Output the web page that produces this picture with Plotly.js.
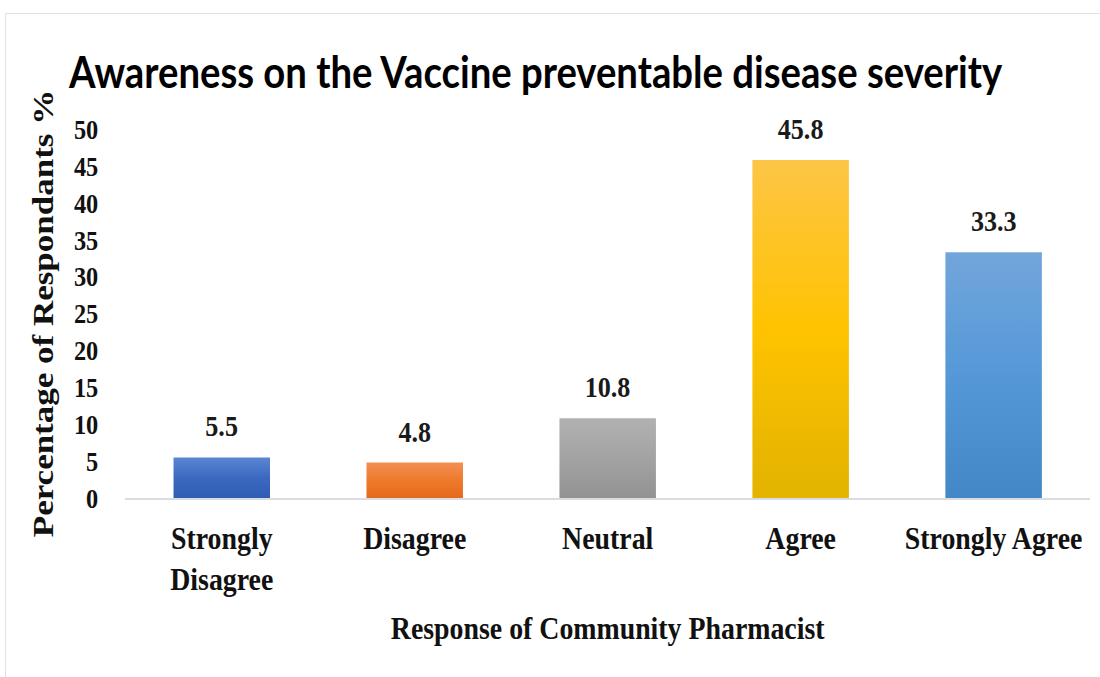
<!DOCTYPE html>
<html>
<head>
<meta charset="utf-8">
<script src="https://cdn.plot.ly/plotly-3.0.1.min.js"></script>
<style>
  html, body { margin: 0; padding: 0; background: #fff; overflow: hidden; }
  #wrap { position: absolute; left: 0; top: 0; width: 1264px; height: 677px; transform: scaleX(0.87); transform-origin: 0 0; }
  #chart { width: 1264px; height: 677px; }
  #frame { position: absolute; left: 5px; top: 13px; width: 1200px; height: 700px; border-left: 1.5px solid #dfe3e8; border-top: 1.5px solid #dfe3e8; pointer-events: none; }
</style>
</head>
<body>
<div id="wrap"><div id="chart"></div></div>
<div id="frame"></div>
<script>
// Data
const categories = ["Strongly<br>Disagree", "Disagree", "Neutral", "Agree", "Strongly Agree"];
const values = [5.5, 4.8, 10.8, 45.8, 33.3];
const valueLabels = ["5.5", "4.8", "10.8", "45.8", "33.3"];
const yTicks = [0, 5, 10, 15, 20, 25, 30, 35, 40, 45, 50];

// Styles (gradient top / mid / bottom per bar)
const baseColors = ["#4472c4", "#ed7d31", "#a5a5a5", "#ffc000", "#5b9bd5"];
const gradStops = [
  ["#5a86d2", "#3b69c0", "#2f5db4"],
  ["#f28f55", "#ee7a2c", "#e5691b"],
  ["#b1b1b1", "#a3a3a3", "#929292"],
  ["#fdc547", "#ffc300", "#e2b300"],
  ["#72a6da", "#5598d8", "#4487c6"]
];

const serif = "Liberation Serif, Times New Roman, serif";

const trace = {
  type: "bar",
  x: categories,
  y: values,
  marker: { color: baseColors, line: { width: 0 } },
  hoverinfo: "x+y",
  showlegend: false
};

const annotations = categories.map((c, i) => ({
  x: c, y: values[i], xref: "x", yref: "y",
  text: valueLabels[i], showarrow: false,
  yanchor: "bottom", yshift: 13,
  font: { family: serif, size: 30, color: "#1a1a1a", weight: 700 }
}));

const layout = {
  width: 1264, height: 677,
  margin: { l: 144, r: 11, t: 129, b: 179 },
  paper_bgcolor: "rgba(0,0,0,0)",
  plot_bgcolor: "rgba(0,0,0,0)",
  bargap: 0.5,
  title: {
    text: "<b>Awareness on the Vaccine preventable disease severity</b>",
    font: { family: "Lato, Open Sans, sans-serif", size: 44, color: "#000" },
    xref: "container", x: 0.487, xanchor: "center",
    yref: "container", y: 0.893, yanchor: "middle"
  },
  xaxis: {
    type: "category",
    showline: true, linecolor: "#d9dde2", linewidth: 1.5,
    showgrid: false, zeroline: false, ticks: "",
    ticklabelstandoff: 11,
    tickfont: { family: serif, size: 32, color: "#111", weight: 700 },
    title: {
      text: "<b>Response of Community Pharmacist</b>",
      font: { family: serif, size: 32, color: "#111" },
      standoff: 20
    }
  },
  yaxis: {
    range: [0, 50], tickvals: yTicks, ticktext: yTicks.map(String),
    showline: false, showgrid: false, zeroline: false, ticks: "",
    ticklabelstandoff: 30,
    tickfont: { family: serif, size: 28, color: "#111", weight: 700 },
    title: {
      text: "<b>Percentage of Respondants %</b>",
      font: { family: serif, size: 35, color: "#111" },
      standoff: 12
    }
  },
  annotations: annotations
};

Plotly.newPlot("chart", [trace], layout, { displayModeBar: false, staticPlot: true }).then(gd => {
  const svg = gd.querySelector("svg.main-svg");
  const ns = "http://www.w3.org/2000/svg";
  let defs = svg.querySelector("defs");
  if (!defs) { defs = document.createElementNS(ns, "defs"); svg.insertBefore(defs, svg.firstChild); }
  gradStops.forEach((stops, i) => {
    const g = document.createElementNS(ns, "linearGradient");
    g.setAttribute("id", "barGrad" + i);
    g.setAttribute("x1", "0"); g.setAttribute("y1", "0");
    g.setAttribute("x2", "0"); g.setAttribute("y2", "1");
    [0, 0.5, 1].forEach((off, k) => {
      const s = document.createElementNS(ns, "stop");
      s.setAttribute("offset", off);
      s.setAttribute("stop-color", stops[k]);
      g.appendChild(s);
    });
    defs.appendChild(g);
  });
  gd.querySelectorAll(".barlayer .point path").forEach((p, i) => {
    p.style.fill = "url(#barGrad" + i + ")";
  });
});
</script>
</body>
</html>
